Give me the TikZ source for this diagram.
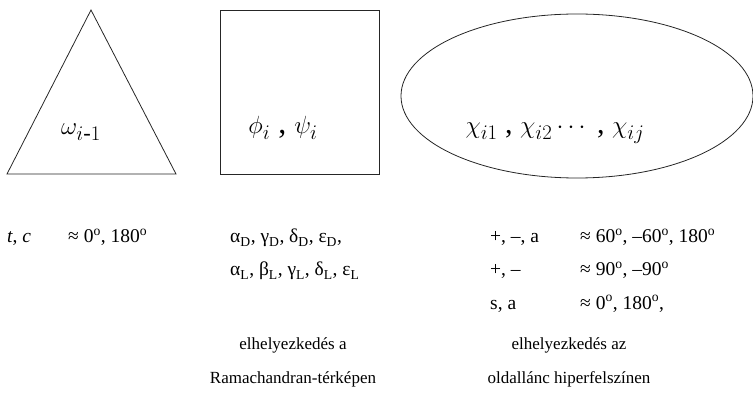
\documentclass[tikz,border=0pt]{standalone}
\usepackage{fontspec}
\setmainfont{Liberation Serif}
\usepackage{amsmath}
\usetikzlibrary{positioning,shapes.geometric}
\tikzset{
  outline/.style={draw=black!85, line width=0.8pt},
  sym/.style={anchor=base, inner sep=0pt, font=\fontsize{32}{36}\selectfont},
  row/.style={anchor=base west, inner sep=0pt, font=\fontsize{19.5}{23}\selectfont},
  caption/.style={anchor=base, inner sep=0pt, font=\fontsize{17}{20}\selectfont},
}
\newcommand{\dg}{\textsuperscript{o}}

\begin{document}
\begin{tikzpicture}[x=1pt, y=-1pt]
  \useasboundingbox (0,0) rectangle (753,393);
  % the three shapes
  \coordinate (tl) at (7,174);
  \coordinate (tt) at (91,10);
  \coordinate (tr) at (176,174);
  \draw[outline] (tl) -- (tt) -- (tr) -- cycle;
  \node[outline, rectangle, minimum width=159pt, minimum height=164pt] (box) at (299.5,92) {};
  \node[outline, ellipse, minimum width=352pt, minimum height=164pt] (side) at (577,96) {};
  \node[sym] (omega) at (81,135) {$\omega_{i\text{-}1}$};
  \node[sym] (phipsi) at (283,134) {$\phi_i$ , $\psi_i$};
  \node[sym, font=\fontsize{30}{34}\selectfont] (chi) at (555,134) {$\chi_{i1}$ , $\chi_{i2}\cdots$ , $\chi_{ij}$};
  % angle values
  \node[row] (tc) at (7,243) {\textit{t}, \textit{c}};
  \node[row] (tcv) at (68,243) {≈ 0\dg, 180\dg};
  \node[row] (rd) at (230,243) {α\textsubscript{D}, γ\textsubscript{D}, δ\textsubscript{D}, ε\textsubscript{D},};
  \node[row] (rl) at (230,276) {α\textsubscript{L}, β\textsubscript{L}, γ\textsubscript{L}, δ\textsubscript{L}, ε\textsubscript{L}};
  \node[row] (pma) at (490,243) {+, –, a};
  \node[row] (pmav) at (580,243) {≈ 60\dg, –60\dg, 180\dg};
  \node[row] (pm) at (490,276) {+, –};
  \node[row] (pmv) at (580,276) {≈ 90\dg, –90\dg};
  \node[row] (sa) at (490,309) {s, a};
  \node[row] (sav) at (580,309) {≈ 0\dg, 180\dg,};
  % captions
  \node[caption] (rama1) at (293,349) {elhelyezkedés a};
  \node[caption] (rama2) at (293,383) {Ramachandran-térképen};
  \node[caption] (hyp1) at (569,349) {elhelyezkedés az};
  \node[caption] (hyp2) at (569,383) {oldallánc hiperfelszínen};
\end{tikzpicture}
\end{document}
